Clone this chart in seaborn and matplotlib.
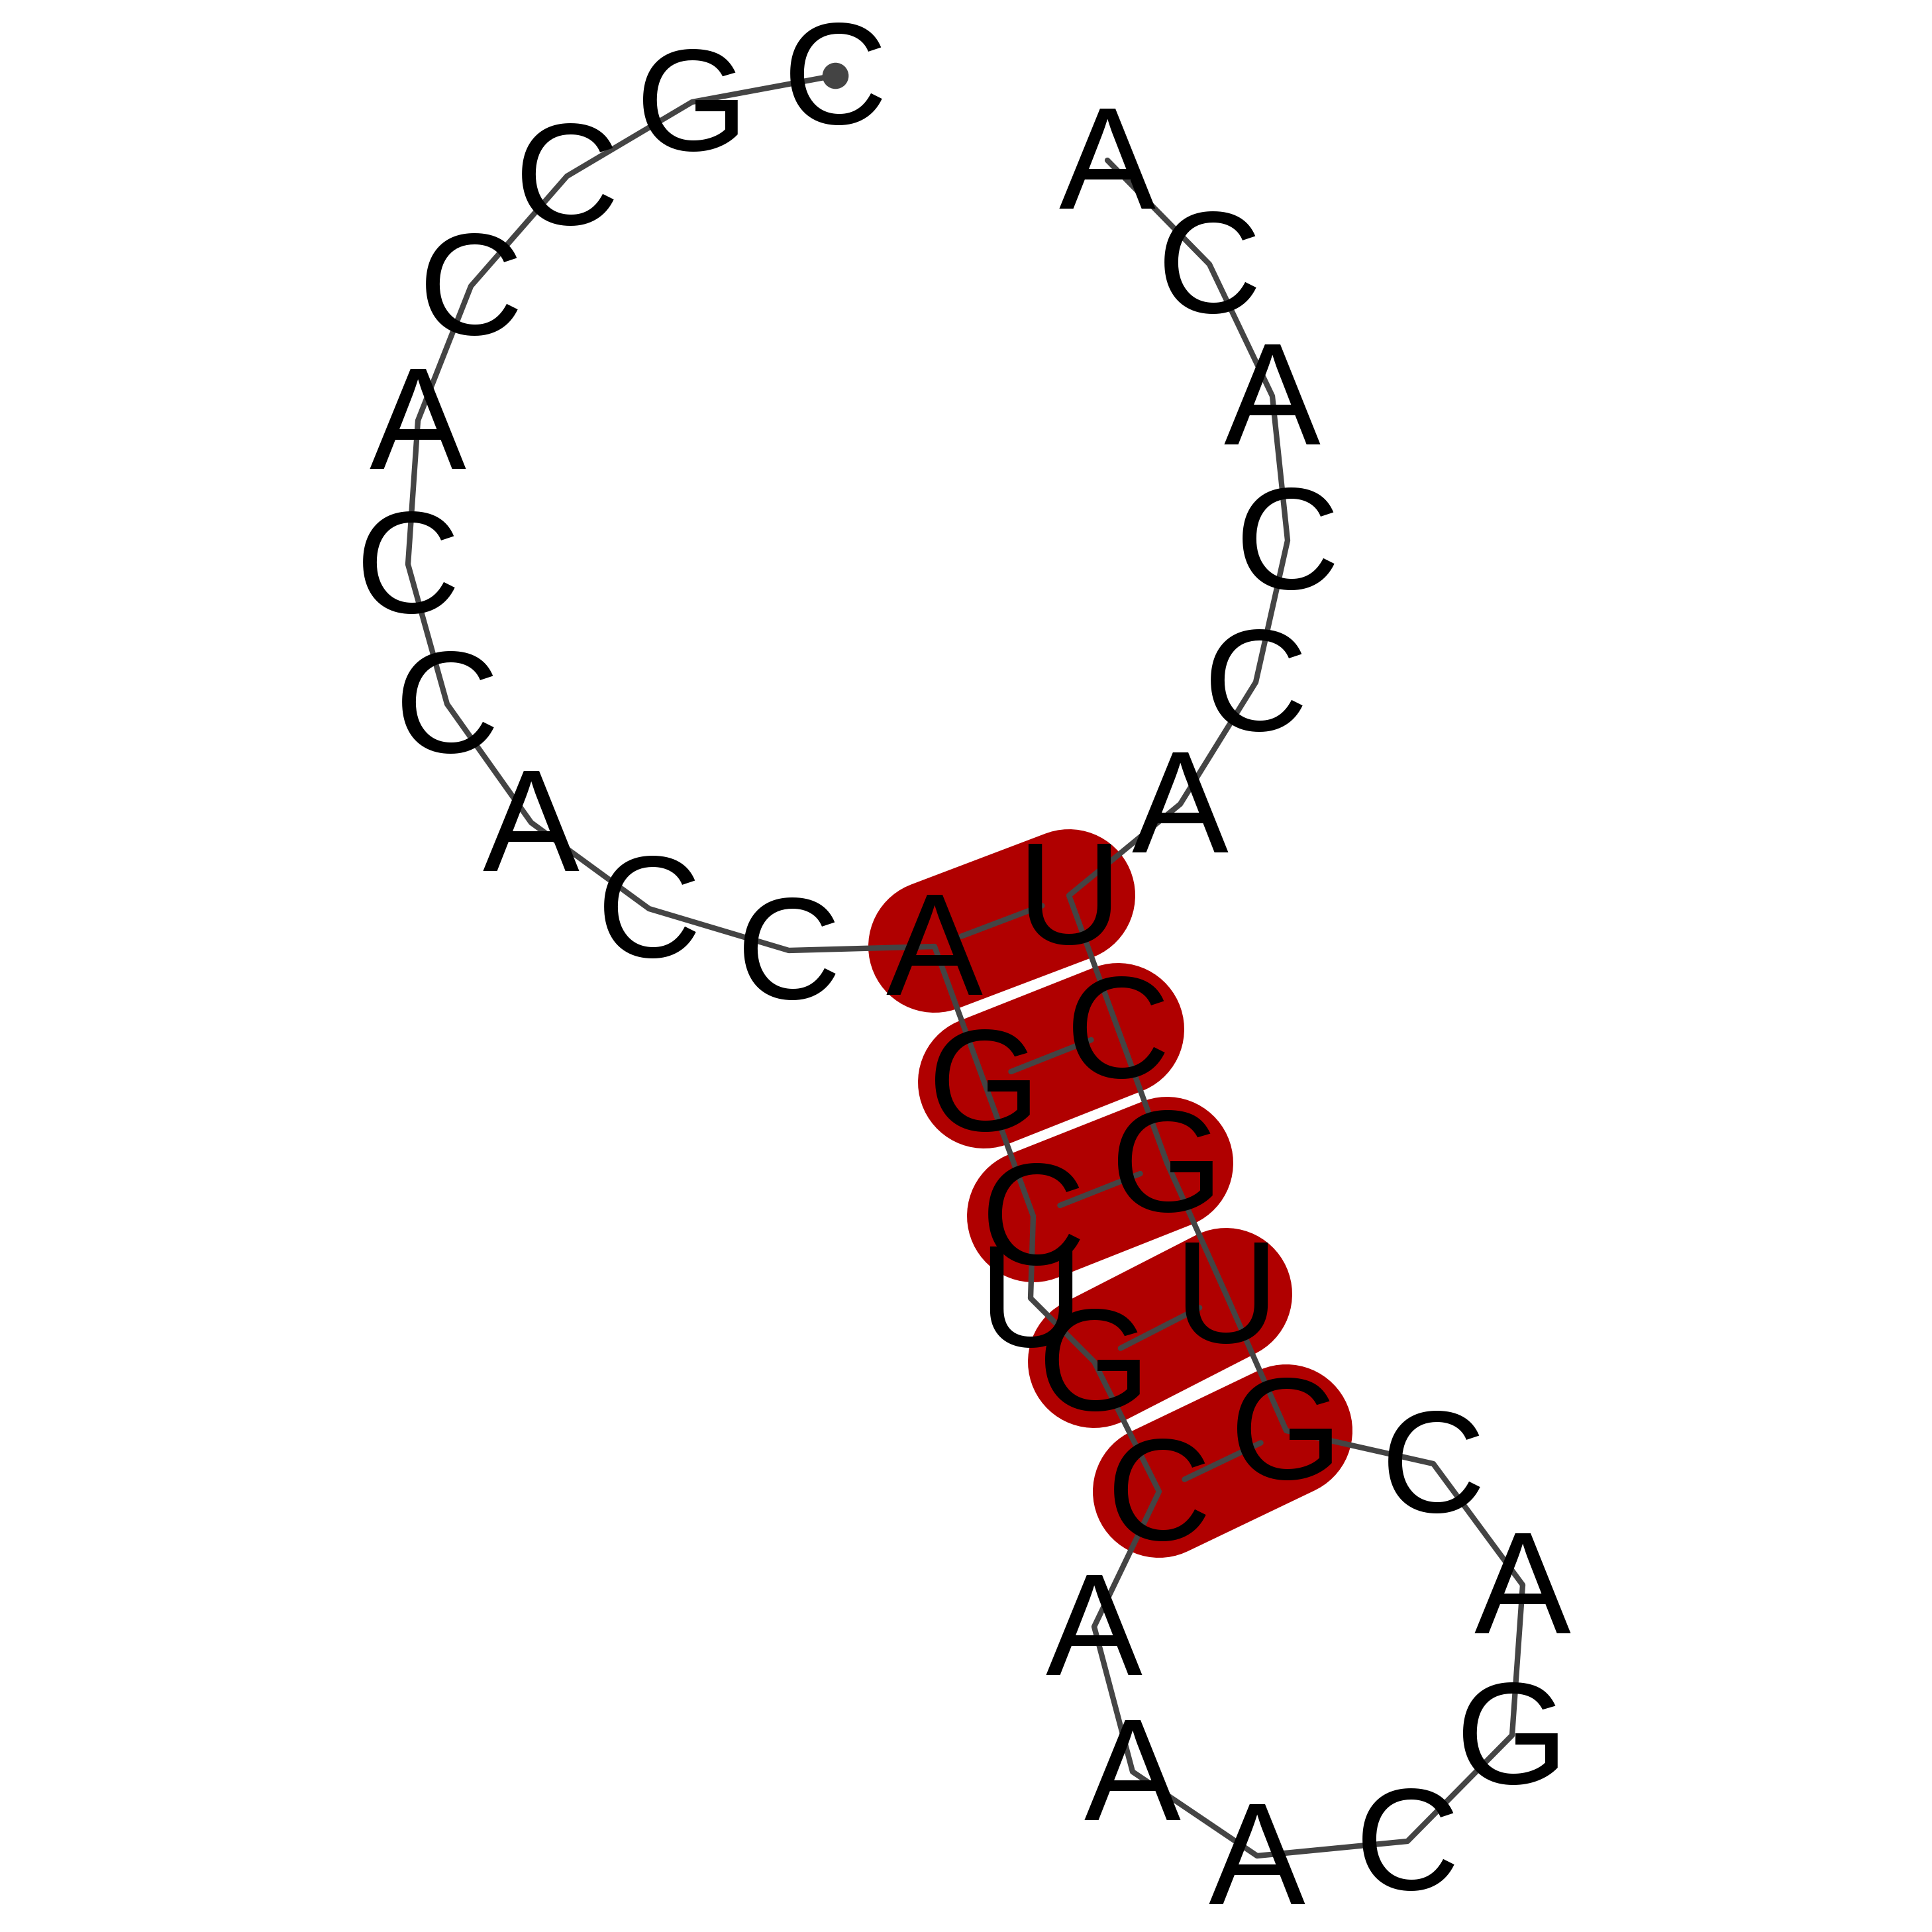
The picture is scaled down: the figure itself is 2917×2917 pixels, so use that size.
import numpy as np
import pandas as pd
import matplotlib
matplotlib.use("Agg")
import matplotlib.pyplot as plt
import matplotlib.transforms as mtransforms
import seaborn as sns

# Nucleotides 5'->3' and their layout positions (pixel units of the 2917 px canvas)
bases = list("CGCCACCACCAGCUGCAAACGACGUGCUACCACA")
pos_x = [1261, 1045, 856, 711, 631, 616, 675, 802, 980, 1191,
         1411, 1486, 1560, 1556, 1652, 1750, 1652, 1710, 1898, 2125,
         2283, 2299, 2164, 1942, 1851, 1762, 1688, 1614, 1782, 1896,
         1944, 1921, 1826, 1672]
pos_y = [114, 154, 266, 432, 635, 852, 1063, 1242, 1372, 1435,
         1429, 1634, 1836, 1960, 2056, 2252, 2456, 2675, 2802, 2780,
         2620, 2393, 2210, 2160, 1954, 1756, 1554, 1352, 1214, 1030,
         816, 598, 399, 242]
# base pairs (1-based nucleotide numbers)
pairs = [(11, 28), (12, 27), (13, 26), (15, 25), (16, 24)]

BACKBONE = "#444444"
PAIR_RED = "#b00000"
SIZE = 2917
DPI = 300

sns.set_theme(style="white")
plt.rcParams["font.family"] = ["Liberation Sans", "DejaVu Sans"]

df = pd.DataFrame({"nt": np.arange(1, len(bases) + 1), "base": bases,
                   "x": pos_x, "y": pos_y})

fig = plt.figure(figsize=(SIZE / DPI, SIZE / DPI), dpi=DPI)
ax = fig.add_axes([0, 0, 1, 1])

# stem pairs as rounded red bars
for i, j in pairs:
    a, b = df.iloc[i - 1], df.iloc[j - 1]
    ax.plot([a.x, b.x], [a.y, b.y], color=PAIR_RED, linewidth=48,
            solid_capstyle="round", zorder=1)

# backbone
sns.lineplot(data=df, x="x", y="y", sort=False, estimator=None,
             color=BACKBONE, linewidth=2.0, ax=ax, zorder=2)
# 5' end marker
ax.plot(df.x.iloc[0], df.y.iloc[0], "o", color=BACKBONE, markersize=8.5, zorder=2)

# short pair lines inside the bars
for i, j in pairs:
    a, b = df.iloc[i - 1], df.iloc[j - 1]
    xs = [a.x + 0.2 * (b.x - a.x), a.x + 0.8 * (b.x - a.x)]
    ys = [a.y + 0.2 * (b.y - a.y), a.y + 0.8 * (b.y - a.y)]
    ax.plot(xs, ys, color=BACKBONE, linewidth=2.0, solid_capstyle="round", zorder=2)

# nucleotide letters (nudged a touch upward, as in the original layout)
text_tr = mtransforms.offset_copy(ax.transData, fig=fig, x=0, y=1.6, units="points")
for _, r in df.iterrows():
    ax.text(r.x, r.y, r.base, ha="center", va="center_baseline",
            fontsize=52.5, color="black", zorder=3, transform=text_tr)

ax.set_xlim(0, SIZE)
ax.set_ylim(SIZE, 0)
ax.set_aspect("equal")
ax.axis("off")

fig.savefig("out.png", dpi=DPI, facecolor="white")
